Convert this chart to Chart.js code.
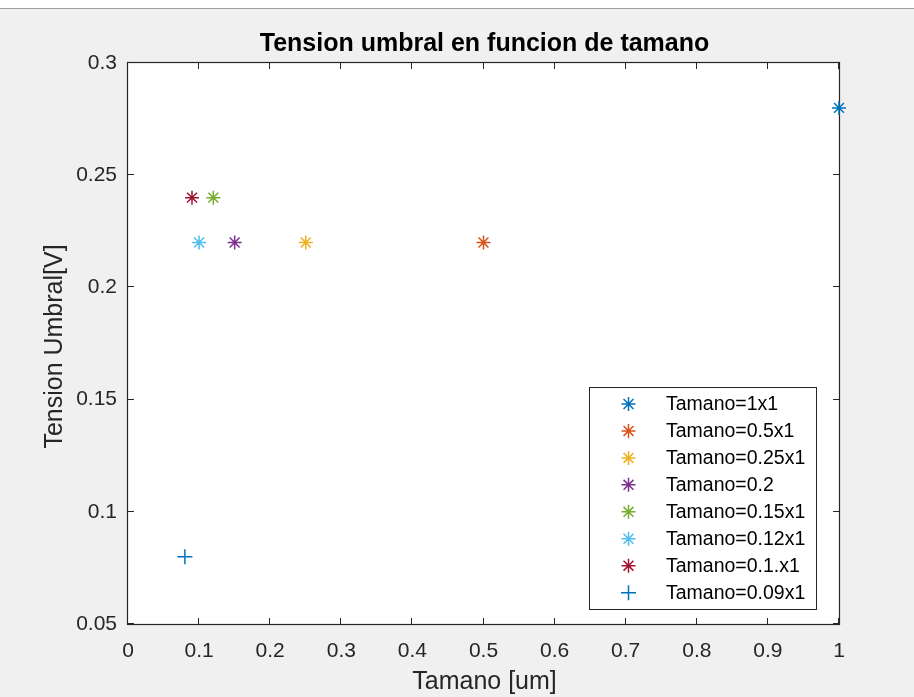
<!DOCTYPE html>
<html>
<head>
<meta charset="utf-8">
<title>Tension umbral en funcion de tamano</title>
<script src="https://cdn.jsdelivr.net/npm/chart.js@4/dist/chart.umd.min.js"></script>
<style>
  html, body { margin: 0; padding: 0; background: #f0f0f0; }
  #wrap { width: 914px; height: 697px; }
</style>
</head>
<body>
<div id="wrap"><canvas id="c" width="914" height="697"></canvas></div>
<script>
// Series: one point per transistor size
const seriesNames = ['Tamano=1x1', 'Tamano=0.5x1', 'Tamano=0.25x1', 'Tamano=0.2',
                     'Tamano=0.15x1', 'Tamano=0.12x1', 'Tamano=0.1.x1', 'Tamano=0.09x1'];
const seriesX = [1, 0.5, 0.25, 0.15, 0.12, 0.1, 0.09, 0.08];
const seriesY = [0.28, 0.22, 0.22, 0.22, 0.24, 0.22, 0.24, 0.08];
const seriesColors = ['#0072BD', '#D95319', '#EDB120', '#7E2F8E',
                      '#77AC30', '#4DBEEE', '#A2142F', '#0072BD'];
const seriesMarkers = ['star', 'star', 'star', 'star', 'star', 'star', 'star', 'cross'];

// Axis ticks
const xTicks = [0, 0.1, 0.2, 0.3, 0.4, 0.5, 0.6, 0.7, 0.8, 0.9, 1];
const yTicks = [0.05, 0.1, 0.15, 0.2, 0.25, 0.3];

const titleText = 'Tension umbral en funcion de tamano';
const xLabel = 'Tamano [um]';
const yLabel = 'Tension Umbral[V]';

const FONT = '"Liberation Sans", Arial, Helvetica, sans-serif';
const AXIS_COLOR = '#262626';
const TICK_LEN = 6;

function drawMarker(ctx, style, x, y, r) {
  ctx.beginPath();
  ctx.moveTo(x - r, y); ctx.lineTo(x + r, y);
  ctx.moveTo(x, y - r); ctx.lineTo(x, y + r);
  if (style === 'star') {
    const d = r * Math.SQRT1_2;
    ctx.moveTo(x - d, y - d); ctx.lineTo(x + d, y + d);
    ctx.moveTo(x - d, y + d); ctx.lineTo(x + d, y - d);
  }
  ctx.stroke();
}

const figurePlugin = {
  id: 'figure',
  beforeDraw(chart) {
    const ctx = chart.ctx, a = chart.chartArea;
    ctx.save();
    ctx.fillStyle = '#f0f0f0';
    ctx.fillRect(0, 0, chart.width, chart.height);
    ctx.fillStyle = '#ffffff';
    ctx.fillRect(0, 0, chart.width, 8);
    ctx.fillStyle = '#a0a0a0';
    ctx.fillRect(0, 8, chart.width, 1);
    ctx.fillStyle = '#ffffff';
    ctx.fillRect(a.left, a.top, a.right - a.left, a.bottom - a.top);
    ctx.restore();
  },
  beforeDatasetsDraw(chart) {
    const ctx = chart.ctx, a = chart.chartArea;
    const xs = chart.scales.x, ys = chart.scales.y;
    ctx.save();
    ctx.strokeStyle = AXIS_COLOR;
    ctx.lineWidth = 1.2;
    ctx.strokeRect(a.left - 0.5, a.top - 0.5, a.right - a.left + 1, a.bottom - a.top + 1);
    ctx.beginPath();
    xTicks.forEach(v => {
      const px = Math.round(xs.getPixelForValue(v)) - 0.5;
      ctx.moveTo(px, a.bottom); ctx.lineTo(px, a.bottom - TICK_LEN);
      ctx.moveTo(px, a.top); ctx.lineTo(px, a.top + TICK_LEN);
    });
    yTicks.forEach(v => {
      const py = Math.round(ys.getPixelForValue(v)) - 0.5;
      ctx.moveTo(a.left, py); ctx.lineTo(a.left + TICK_LEN, py);
      ctx.moveTo(a.right, py); ctx.lineTo(a.right - TICK_LEN, py);
    });
    ctx.lineWidth = 1;
    ctx.stroke();
    ctx.restore();
  },
  afterDraw(chart) {
    const ctx = chart.ctx, a = chart.chartArea;
    ctx.save();
    // Title
    ctx.fillStyle = '#000000';
    ctx.font = 'bold 25px ' + FONT;
    ctx.textAlign = 'center';
    ctx.textBaseline = 'alphabetic';
    ctx.fillText(titleText, (a.left + a.right) / 2 + 1, 51);
    // Axis labels
    ctx.fillStyle = AXIS_COLOR;
    ctx.font = '25px ' + FONT;
    ctx.fillText(xLabel, (a.left + a.right) / 2 + 1, 689);
    ctx.save();
    ctx.translate(62, (a.top + a.bottom) / 2 + 3);
    ctx.rotate(-Math.PI / 2);
    ctx.fillText(yLabel, 0, 0);
    ctx.restore();
    // Legend box
    const bx = 589, by = 387, bw = 227, bh = 222;
    ctx.fillStyle = '#ffffff';
    ctx.fillRect(bx, by, bw, bh);
    ctx.strokeStyle = AXIS_COLOR;
    ctx.lineWidth = 1;
    ctx.strokeRect(bx + 0.5, by + 0.5, bw, bh);
    ctx.font = '19.5px ' + FONT;
    ctx.textAlign = 'left';
    ctx.textBaseline = 'middle';
    chart.data.datasets.forEach((ds, i) => {
      const ry = 404 + i * 26.95;
      ctx.strokeStyle = ds.pointBorderColor;
      ctx.lineWidth = 1.5;
      drawMarker(ctx, ds.pointStyle, 628.5, ry, ds.pointStyle === 'star' ? 7 : 7.5);
      ctx.fillStyle = '#000000';
      ctx.fillText(ds.label, 666, ry + 1);
    });
    ctx.restore();
  }
};

const datasets = seriesNames.map((name, i) => ({
  label: name,
  data: [{ x: seriesX[i], y: seriesY[i] }],
  pointStyle: seriesMarkers[i],
  pointRadius: seriesMarkers[i] === 'star' ? 7 : 7.5,
  pointBorderColor: seriesColors[i],
  pointBackgroundColor: seriesColors[i],
  pointBorderWidth: 1.5,
  showLine: false,
  clip: false
}));

new Chart(document.getElementById('c'), {
  type: 'scatter',
  data: { datasets },
  options: {
    responsive: false,
    animation: false,
    devicePixelRatio: 1,
    events: [],
    layout: { padding: { top: 63, right: 75, bottom: 0, left: 0 } },
    plugins: {
      legend: { display: false },
      title: { display: false },
      tooltip: { enabled: false }
    },
    scales: {
      x: {
        type: 'linear',
        min: 0, max: 1,
        afterBuildTicks: s => { s.ticks = xTicks.map(v => ({ value: v })); },
        afterFit: s => { s.height = 73; },
        grid: { display: false, drawTicks: false },
        border: { display: false },
        ticks: {
          padding: 15,
          color: AXIS_COLOR,
          font: { family: FONT, size: 21 },
          maxRotation: 0,
          autoSkip: false,
          callback: v => String(+v.toFixed(2))
        }
      },
      y: {
        type: 'linear',
        min: 0.05, max: 0.3,
        afterBuildTicks: s => { s.ticks = yTicks.map(v => ({ value: v })); },
        afterFit: s => { s.width = 128; },
        grid: { display: false, drawTicks: false },
        border: { display: false },
        ticks: {
          padding: 11,
          color: AXIS_COLOR,
          font: { family: FONT, size: 21 },
          autoSkip: false,
          callback: v => String(+v.toFixed(2))
        }
      }
    }
  },
  plugins: [figurePlugin]
});
</script>
</body>
</html>
